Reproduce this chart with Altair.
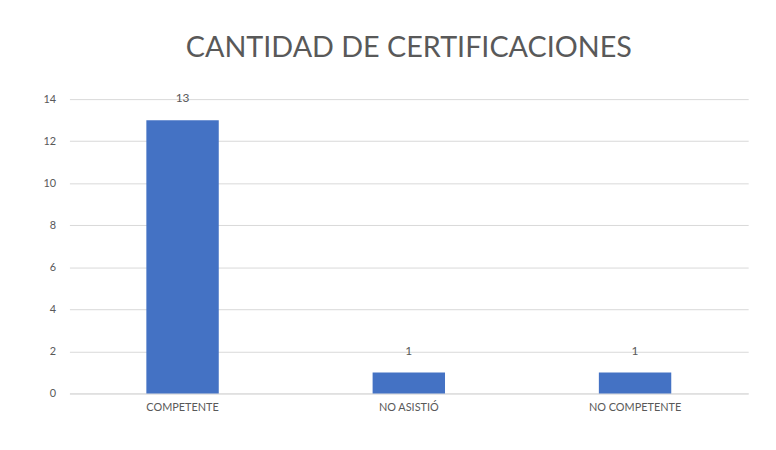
import altair as alt
import pandas as pd

categories = ["COMPETENTE", "NO ASISTIÓ", "NO COMPETENTE"]
values = [13, 1, 1]
y_ticks = [0, 2, 4, 6, 8, 10, 12, 14]

df = pd.DataFrame({"cat": categories, "val": values})

base = alt.Chart(df).encode(
    x=alt.X("cat:N", sort=categories, title=None,
            scale=alt.Scale(paddingInner=0.68, paddingOuter=0.34),
            axis=alt.Axis(labelAngle=0, labelFontSize=11, labelColor="#595959",
                          domainColor="#D9D9D9", ticks=False, labelPadding=8,
                          labelFont="Lato")),
    y=alt.Y("val:Q", title=None,
            scale=alt.Scale(domain=[0, 14], nice=False),
            axis=alt.Axis(values=y_ticks, labelFontSize=11, labelColor="#595959",
                          domain=False, ticks=False, gridColor="#D9D9D9",
                          labelPadding=14, labelFont="Lato")),
)

bars = base.mark_bar(color="#4472C4")
labels = base.mark_text(dy=-22, fontSize=12, color="#595959", font="Lato").encode(text="val:Q")

chart = (bars + labels).properties(
    width=685, height=297,
    title=alt.TitleParams("CANTIDAD DE CERTIFICACIONES", fontSize=29, font="Lato",
                          color="#595959", fontWeight="normal", offset=30, anchor="middle"),
    autosize=alt.AutoSizeParams(type="none"),
    padding={"left": 62, "top": 90, "right": 20, "bottom": 40},
).configure_view(stroke=None)

chart.save("out.html", embed_options={"renderer": "svg", "actions": False})
